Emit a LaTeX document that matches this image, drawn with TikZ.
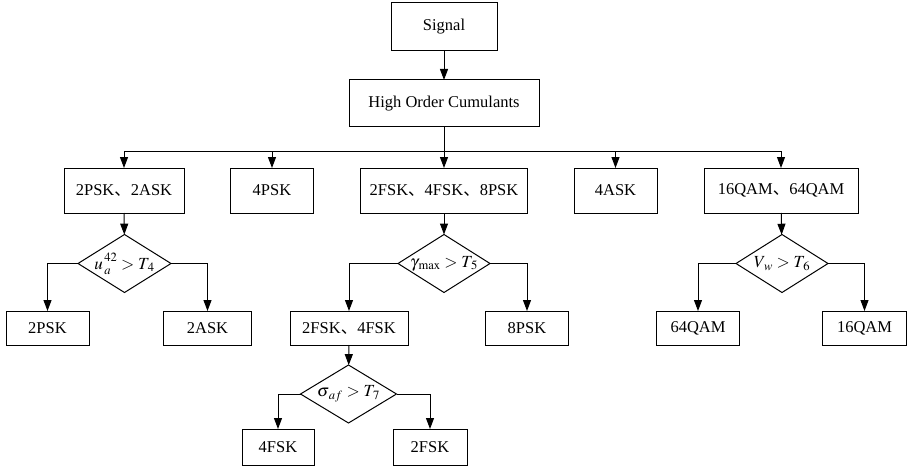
\documentclass[tikz,border=0pt]{standalone}
\usepackage{mathptmx}
\usepackage{fontspec}
\setmainfont{Liberation Serif}
\newfontfamily\cjk{Noto Sans CJK SC}
\usetikzlibrary{arrows.meta,shapes.geometric}
\newcommand\dun{{\cjk 、}}
\begin{document}
\begin{tikzpicture}[x=1pt,y=-1pt,
  box/.style={draw, line width=1pt, inner sep=0pt, outer sep=0pt, font=\fontsize{16.5}{19}\selectfont},
  dia/.style={draw, diamond, line width=1pt, minimum width=#1, minimum height=58pt, inner sep=0pt, outer sep=0pt},
  dtxt/.style={inner sep=0pt, font=\fontsize{17}{20}\selectfont},
  ln/.style={line width=1pt},
  arr/.style={line width=1pt, -{Triangle[length=11pt,width=8pt]}}]
\useasboundingbox (0,0) rectangle (907,468);
% top
\node[box, minimum width=106pt, minimum height=48pt] (sig) at (444,27) {Signal};
\node[box, minimum width=190pt, minimum height=47pt] (hoc) at (444,103.5) {High Order Cumulants};
\coordinate (bus) at (444,151);
% row 1
\node[box, minimum width=120pt, minimum height=45pt] (b1) at (124,190.5) {2PSK\dun 2ASK};
\node[box, minimum width=83pt, minimum height=45pt] (b2) at (272,190.5) {4PSK};
\node[box, minimum width=167pt, minimum height=45pt] (b3) at (444,190.5) {2FSK\dun 4FSK\dun 8PSK};
\node[box, minimum width=83pt, minimum height=45pt] (b4) at (615.5,190.5) {4ASK};
\node[box, minimum width=154pt, minimum height=45pt] (b5) at (781,190.5) {16QAM\dun 64QAM};
% diamonds
\node[dia=93pt] (d1) at (124.5,263.5) {};
\node[dtxt] (d1t) at (d1) {${u\vphantom{(}}_{\,a}^{\,42} > T_{\,4}$};
\node[dia=92pt] (d2) at (444,263.5) {};
\node[dtxt] (d2t) at (d2) {$\gamma_{\,\max} > T_{\,5}$};
\node[dia=92pt] (d3) at (782,263.5) {};
\node[dtxt] (d3t) at (d3) {$V_{\,w} > T_{\,6}$};
% row 2
\node[box, minimum width=83pt, minimum height=34pt] (c1) at (47.5,328) {2PSK};
\node[box, minimum width=88pt, minimum height=34pt] (c2) at (207.5,328) {2ASK};
\node[box, minimum width=118pt, minimum height=34pt] (c3) at (349,328) {2FSK\dun 4FSK};
\node[box, minimum width=83pt, minimum height=34pt] (c4) at (527,328) {8PSK};
\node[box, minimum width=83pt, minimum height=34pt] (c5) at (698,328) {64QAM};
\node[box, minimum width=84pt, minimum height=34pt] (c6) at (864.5,328) {16QAM};
% d4
\node[dia=96pt] (d4) at (348.5,394) {};
\node[dtxt] (d4t) at (d4) {$\sigma_{\,af} > T_{\,7}$};
% row 3
\node[box, minimum width=72pt, minimum height=36pt] (e1) at (278,447) {4FSK};
\node[box, minimum width=74pt, minimum height=36pt] (e2) at (430,447) {2FSK};
% connectors
\draw[arr] (sig) -- (hoc);
\draw[arr] (hoc) -- (b3);
\draw[ln] (bus -| b1) -- (bus -| b5);
\foreach \b in {b1,b2,b4,b5} \draw[arr] (bus -| \b) -- (\b);
\draw[arr] (b1) -- (d1);
\draw[arr] (b3) -- (d2);
\draw[arr] (b5) -- (d3);
\draw[arr] (d1.west) -| (c1);
\draw[arr] (d1.east) -| (c2);
\draw[arr] (d2.west) -| (c3);
\draw[arr] (d2.east) -| (c4);
\draw[arr] (d3.west) -| (c5);
\draw[arr] (d3.east) -| (c6);
\draw[arr] (c3) -- (d4);
\draw[arr] (d4.west) -| (e1);
\draw[arr] (d4.east) -| (e2);
\end{tikzpicture}
\end{document}
